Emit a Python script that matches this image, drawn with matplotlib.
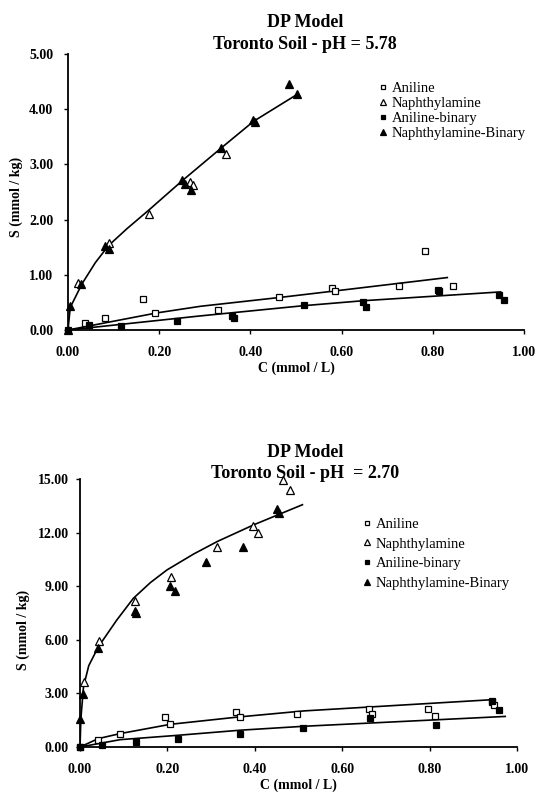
import matplotlib
matplotlib.use("Agg")
import matplotlib.pyplot as plt

plt.rcParams['font.family'] = ['Liberation Serif', 'DejaVu Serif']

labels = ["Aniline", "Naphthylamine", "Aniline-binary", "Naphthylamine-Binary"]

# ---- pH 5.78 (top panel) ----
top_ani_c = [0.037, 0.082, 0.165, 0.19, 0.328, 0.463, 0.58, 0.586, 0.725, 0.783, 0.844]
top_ani_s = [0.13, 0.21, 0.57, 0.31, 0.37, 0.59, 0.76, 0.71, 0.80, 1.43, 0.80]
top_nap_c = [0.022, 0.09, 0.177, 0.267, 0.275, 0.347]
top_nap_s = [0.86, 1.58, 2.10, 2.69, 2.63, 3.19]
top_anib_c = [0.0, 0.047, 0.117, 0.239, 0.36, 0.365, 0.518, 0.647, 0.653, 0.811, 0.814, 0.946, 0.956]
top_anib_s = [0.0, 0.09, 0.07, 0.16, 0.26, 0.21, 0.45, 0.51, 0.41, 0.72, 0.70, 0.64, 0.54]
top_napb_c = [0.0, 0.005, 0.029, 0.082, 0.09, 0.251, 0.257, 0.27, 0.335, 0.405, 0.41, 0.485, 0.503]
top_napb_s = [0.0, 0.44, 0.83, 1.52, 1.46, 2.71, 2.65, 2.54, 3.29, 3.81, 3.77, 4.46, 4.27]

# model curves
top_fit_nap_c = [0, 0.005, 0.031, 0.06, 0.089, 0.13, 0.177, 0.25, 0.338, 0.407, 0.503]
top_fit_nap_s = [0, 0.41, 0.84, 1.22, 1.53, 1.84, 2.17, 2.70, 3.31, 3.78, 4.27]
top_fit_ani_c = [0, 0.195, 0.291, 0.465, 0.588, 0.832]
top_fit_ani_s = [0, 0.31, 0.43, 0.59, 0.71, 0.95]
top_fit_anib_c = [0, 0.29, 0.516, 0.647, 0.949]
top_fit_anib_s = [0, 0.255, 0.44, 0.53, 0.69]

# ---- pH 2.70 (bottom panel) ----
bot_ani_c = [0.0, 0.042, 0.092, 0.195, 0.207, 0.356, 0.365, 0.496, 0.661, 0.668, 0.796, 0.813, 0.943, 0.947]
bot_ani_s = [0.0, 0.41, 0.71, 1.68, 1.27, 1.96, 1.68, 1.85, 2.12, 1.86, 2.14, 1.71, 2.50, 2.33]
bot_nap_c = [0.008, 0.044, 0.125, 0.209, 0.314, 0.396, 0.407, 0.464, 0.48]
bot_nap_s = [3.65, 5.93, 8.17, 9.54, 11.18, 12.38, 12.0, 14.92, 14.36]
bot_anib_c = [0.0, 0.05, 0.128, 0.224, 0.367, 0.511, 0.663, 0.814, 0.943, 0.958]
bot_anib_s = [0.0, 0.09, 0.28, 0.47, 0.75, 1.07, 1.62, 1.21, 2.55, 2.05]
bot_napb_c = [0.0, 0.006, 0.041, 0.125, 0.128, 0.207, 0.217, 0.288, 0.373, 0.451, 0.456]
bot_napb_s = [1.59, 2.95, 5.52, 7.63, 7.48, 9.03, 8.75, 10.38, 11.22, 13.3, 13.1]

bot_fit_nap_c = [0, 0.002, 0.008, 0.02, 0.042, 0.084, 0.122, 0.161, 0.199, 0.26, 0.314, 0.398, 0.509]
bot_fit_nap_s = [0, 1.6, 3.37, 4.55, 5.61, 7.1, 8.32, 9.2, 9.91, 10.8, 11.5, 12.44, 13.56]
bot_fit_ani_c = [0, 0.042, 0.092, 0.207, 0.363, 0.513, 0.945]
bot_fit_ani_s = [0, 0.47, 0.75, 1.27, 1.68, 2.02, 2.65]
bot_fit_anib_c = [0, 0.092, 0.222, 0.367, 0.513, 0.973]
bot_fit_anib_s = [0, 0.41, 0.65, 0.94, 1.16, 1.71]

top_yticks = [0, 1, 2, 3, 4, 5]
bot_yticks = [0, 3, 6, 9, 12, 15]
xticks = [0, 0.2, 0.4, 0.6, 0.8, 1.0]

fig = plt.figure(figsize=(5.37, 7.95), dpi=100)
ax1 = fig.add_axes([0.1266, 0.5849, 0.849, 0.3472])
ax2 = fig.add_axes([0.149, 0.0604, 0.8138, 0.3371])


def draw(ax, series, fits, yticks, ymax, leg_anchor, leg_spacing, ypad):
    styles = [
        dict(marker='s', ms=4.5, mfc='white', mec='black', mew=0.9),
        dict(marker='^', ms=5.5, mfc='white', mec='black', mew=0.9),
        dict(marker='s', ms=4.5, mfc='black', mec='black', mew=0.9),
        dict(marker='^', ms=5.5, mfc='black', mec='black', mew=0.9),
    ]
    for (c, s), st, lab in zip(series, styles, labels):
        ax.plot(c, s, ls='none', label=lab, zorder=3, clip_on=False, **st)
    for c, s in fits:
        ax.plot(c, s, color='black', lw=1.2, zorder=2)

    ax.set_xlim(0, 1.0)
    ax.set_ylim(0, ymax)
    ax.set_xticks(xticks)
    ax.set_xticklabels([f"{v:.2f}" for v in xticks])
    ax.set_yticks(yticks)
    ax.set_yticklabels([f"{v:.2f}" for v in yticks])
    for sp in ['top', 'right']:
        ax.spines[sp].set_visible(False)
    for sp in ['left', 'bottom']:
        ax.spines[sp].set_linewidth(1.3)
    ax.tick_params(axis='x', direction='out', length=3, width=1, pad=8.5, labelsize=10)
    ax.tick_params(axis='y', direction='out', length=3, width=1, pad=ypad, labelsize=10)
    for t in ax.get_xticklabels() + ax.get_yticklabels():
        t.set_fontweight('bold')

    ax.set_xlabel("C (mmol / L)", fontsize=10, fontweight='bold', labelpad=2)
    ax.set_ylabel("S (mmol / kg)", fontsize=10, fontweight='bold')

    ax.legend(loc='upper left', bbox_to_anchor=leg_anchor, frameon=False,
              fontsize=10.5, markerscale=0.7, handlelength=0.7, handletextpad=0.25,
              borderpad=0, borderaxespad=0, labelspacing=leg_spacing)


draw(ax1,
     [(top_ani_c, top_ani_s), (top_nap_c, top_nap_s),
      (top_anib_c, top_anib_s), (top_napb_c, top_napb_s)],
     [(top_fit_nap_c, top_fit_nap_s), (top_fit_ani_c, top_fit_ani_s),
      (top_fit_anib_c, top_fit_anib_s)],
     top_yticks, 5.0, (0.68, 0.90), 0.13, 7.5)
ax1.yaxis.set_label_coords(-0.099, 0.482)

draw(ax2,
     [(bot_ani_c, bot_ani_s), (bot_nap_c, bot_nap_s),
      (bot_anib_c, bot_anib_s), (bot_napb_c, bot_napb_s)],
     [(bot_fit_nap_c, bot_fit_nap_s), (bot_fit_ani_c, bot_fit_ani_s),
      (bot_fit_anib_c, bot_fit_anib_s)],
     bot_yticks, 15.0, (0.645, 0.856), 0.45, 5)
ax2.yaxis.set_label_coords(-0.114, 0.437)

fig.text(0.568, 0.9723, "DP Model", ha='center', va='center', fontsize=13, fontweight='bold')
fig.text(0.568, 0.944, "Toronto Soil - pH = 5.78", ha='center', va='center', fontsize=13, fontweight='bold')
fig.text(0.568, 0.4314, "DP Model", ha='center', va='center', fontsize=13, fontweight='bold')
fig.text(0.568, 0.405, "Toronto Soil - pH  = 2.70", ha='center', va='center', fontsize=13, fontweight='bold')

fig.savefig("out.png", dpi=100)
